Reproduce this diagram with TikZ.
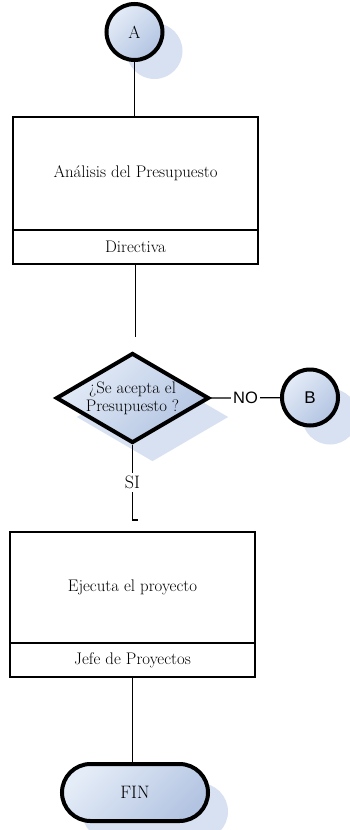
\documentclass[tikz,border=0pt]{standalone}
\usepackage{fontspec}
\newfontfamily\arialish{Liberation Sans}
\usetikzlibrary{shapes.geometric,shapes.misc,shadows}
\definecolor{fillhi}{HTML}{E4ECF7}
\definecolor{filllo}{HTML}{B3C4E2}
\definecolor{shadowc}{HTML}{D8E1F1}
\begin{document}
\begin{tikzpicture}[x=1pt,y=-1pt,
  every node/.style={font=\fontsize{16.8}{18}\selectfont, text=black},
  symbol/.style={draw=black, line width=4pt,
    top color=fillhi, bottom color=filllo, shading angle=45,
    general shadow={fill=shadowc, shadow xshift=20pt, shadow yshift=-19pt}},
  conn/.style={symbol, circle, minimum size=56pt, inner sep=0pt},
  decision/.style={symbol, diamond, aspect=1.7, inner sep=0pt,
    minimum width=153pt, minimum height=90pt, align=center},
  terminal/.style={symbol, rounded rectangle, minimum width=146pt,
    minimum height=57pt, inner sep=0pt},
  taskbox/.style={draw=black, line width=1.5pt, minimum width=245pt, inner sep=0pt},
  flow/.style={draw=black, line width=1.2pt},
  lbl/.style={fill=white, inner sep=3pt},
  sanslbl/.style={lbl, font=\arialish\fontsize{16.5}{18}\selectfont, inner sep=2pt}]

\useasboundingbox (0,0) rectangle (350,830);
\clip (0,0) rectangle (350,830);

% connector A
\node[conn, font=\fontsize{17.5}{18}\selectfont] (A) at (134.5,32) {A};

% budget analysis task
\node[taskbox, minimum height=113pt] (t1) at (135.5,173.5) {Análisis del Presupuesto};
\node[taskbox, minimum height=34pt] (r1) at (135.5,247) {Directiva};
\coordinate (gap1) at (135.5,337);

% decision
\node[decision, font=\fontsize{16.7}{18}\selectfont] (dec) at (132.5,398) {¿Se acepta el\\Presupuesto ?};

% connector B
\node[conn, font=\arialish\fontsize{17}{18}\selectfont] (B) at (310,397.5) {B};

\coordinate (siend) at (132.5,520);

% project execution task
\node[taskbox, minimum height=111pt] (t2) at (132.5,587.5) {Ejecuta el proyecto};
\node[taskbox, minimum height=34pt] (r2) at (132.5,660) {Jefe de Proyectos};

% end
\node[terminal, font=\fontsize{18}{20}\selectfont] (fin) at (135,792.5) {FIN};

% connectors
\draw[flow] (A) -- (A |- t1.north);
\draw[flow] (r1) -- (gap1);
\draw[flow] (dec.east) -- node[sanslbl] {NO} (B);
\draw[flow] (dec.south) -- node[lbl, font=\fontsize{18}{18}\selectfont] {SI} (siend) -- ++(5,0);
\draw[flow] (r2.south) -- (r2.south |- fin.north);
\end{tikzpicture}
\end{document}
